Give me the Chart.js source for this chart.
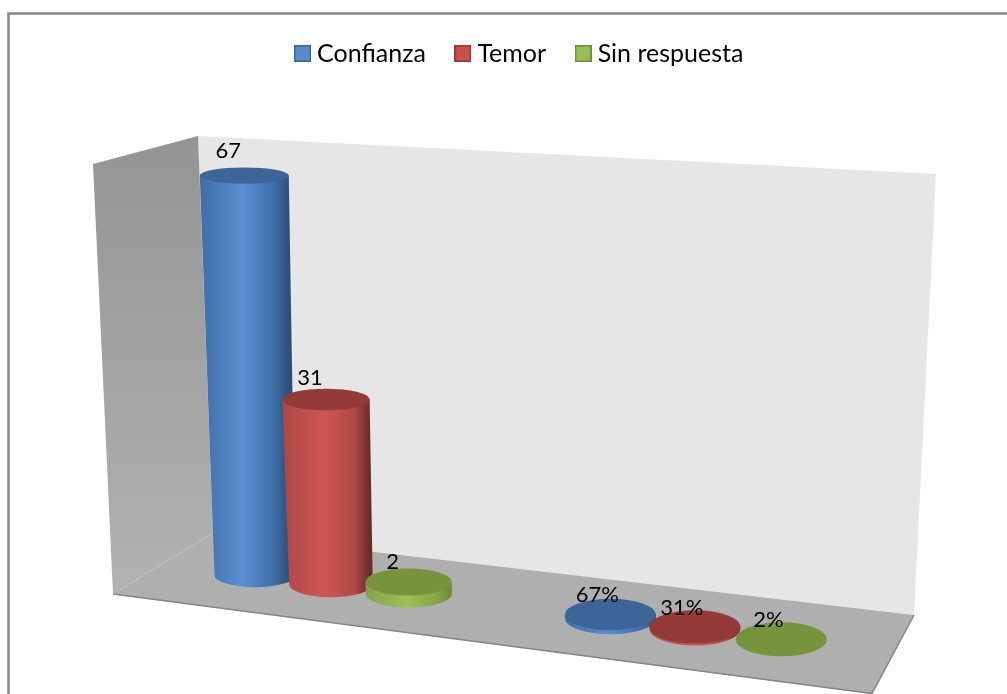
<!DOCTYPE html>
<html>
<head>
<meta charset="utf-8">
<style>html,body{margin:0;padding:0;background:#fff}canvas{display:block}</style>
<script src="https://cdn.jsdelivr.net/npm/chart.js@4"></script>
</head>
<body>
<div style="position:relative;width:1007px;height:694px"><canvas id="c" width="1007" height="694"></canvas></div>
<script>
const categories = ['Cantidad', 'Porcentaje'];
const seriesNames = ['Confianza', 'Temor', 'Sin respuesta'];
const confianza = [67, 0.67];
const temor = [31, 0.31];
const sinRespuesta = [2, 0.02];

const bodyColors = [
  ['#3f6ea7', '#5b8ed3', '#2f4f79', '#3d6597'],
  ['#ab4846', '#d05654', '#6a2c2b', '#943b39'],
  ['#84a348', '#9dc056', '#6c8636', '#77933c']
];
const swatchColors = [['#5a8bc9', '#39659b'], ['#c9504d', '#943634'], ['#9bbb59', '#6f8b3a']];
const FONT = 'Lato, "Open Sans", sans-serif';

function swatch(i) {
  const s = document.createElement('canvas');
  s.width = 17; s.height = 17;
  const g = s.getContext('2d');
  g.fillStyle = swatchColors[i][1];
  g.fillRect(0, 0, 17, 17);
  g.fillStyle = swatchColors[i][0];
  g.fillRect(1.5, 1.5, 14, 14);
  return s;
}

function poly(ctx, pts, fill, stroke) {
  ctx.beginPath();
  pts.forEach((p, i) => i ? ctx.lineTo(p[0], p[1]) : ctx.moveTo(p[0], p[1]));
  ctx.closePath();
  ctx.fillStyle = fill;
  ctx.fill();
  if (stroke) { ctx.strokeStyle = stroke; ctx.lineWidth = 1.5; ctx.stroke(); }
}

// 3D projection of the floor: slot x -> screen x, and floor depth along x
const centre = 340.5;
const projX = x => 331 + 0.95 * (x - centre) + 0.000145 * (x - centre) * (x - centre);
const floorY = bx => 575 + 0.122 * (bx - 254);

function drawCylinder(ctx, el, colors) {
  const h = el.base - el.y;
  const bx = projX(el.x);
  const by = floorY(bx);
  const brx = Math.min(45.5, 40.5 + 0.0165 * (bx - 254));
  const bry = Math.min(17, 12 + 0.0105 * (bx - 254));
  const tx = bx - h * 0.027;
  const ty = by - h;
  const trx = brx + h * 0.01;
  const tryy = bry * (1 - h * 0.00083);

  const g = ctx.createLinearGradient(tx - trx, 0, tx + trx, 0);
  g.addColorStop(0, colors[0]);
  g.addColorStop(0.48, colors[1]);
  g.addColorStop(0.84, colors[0]);
  g.addColorStop(1, colors[2]);
  ctx.beginPath();
  ctx.moveTo(tx - trx, ty);
  ctx.lineTo(bx - brx, by);
  ctx.ellipse(bx, by, brx, bry, 0, Math.PI, 0, true);
  ctx.lineTo(tx + trx, ty);
  ctx.closePath();
  ctx.fillStyle = g;
  ctx.fill();

  ctx.beginPath();
  ctx.ellipse(tx, ty, trx, tryy, 0, 0, Math.PI * 2);
  ctx.fillStyle = colors[3];
  ctx.fill();
  return { tx, ty, h };
}

const scene = {
  id: 'scene',
  beforeDraw(chart) {
    const ctx = chart.ctx;
    ctx.save();
    ctx.strokeStyle = '#868686';
    ctx.lineWidth = 2.5;
    ctx.beginPath();
    ctx.moveTo(8.5, 700);
    ctx.lineTo(8.5, 13.5);
    ctx.lineTo(1010, 13.5);
    ctx.stroke();
    const wg = ctx.createLinearGradient(0, 136, 0, 595);
    wg.addColorStop(0, '#949494');
    wg.addColorStop(1, '#b2b2b2');
    poly(ctx, [[198, 136], [936, 174], [914, 615], [213, 533]], '#e6e6e6');
    poly(ctx, [[93, 164], [198, 136], [213, 533], [113, 594]], wg);
    poly(ctx, [[113, 594], [213, 533], [914, 615], [872, 694], [113, 594]], '#afafaf');
    ctx.strokeStyle = '#858585';
    ctx.lineWidth = 1.5;
    ctx.beginPath();
    ctx.moveTo(113, 594); ctx.lineTo(872, 693.5); ctx.lineTo(914, 615);
    ctx.stroke();
    ctx.restore();
  },
  beforeDatasetsDraw(chart) {
    const ctx = chart.ctx;
    const labels = [];
    ctx.save();
    categories.forEach((_, i) => {
      chart.data.datasets.forEach((ds, d) => {
        const el = chart.getDatasetMeta(d).data[i];
        const p = drawCylinder(ctx, el, bodyColors[d]);
        const v = ds.data[i];
        labels.push([i === 1 ? Math.round(v * 100) + '%' : String(v), p.tx - (i === 0 ? 16 : 13), p.ty - 19.5 - p.h * 0.0115]);
      });
    });
    ctx.fillStyle = '#000';
    ctx.font = '22px ' + FONT;
    ctx.textAlign = 'center';
    ctx.textBaseline = 'middle';
    labels.forEach(l => ctx.fillText(l[0], l[1], l[2]));
    ctx.restore();
  },
  beforeDatasetDraw() { return false; }
};

new Chart(document.getElementById('c'), {
  type: 'bar',
  plugins: [scene],
  data: {
    labels: categories,
    datasets: [
      { label: seriesNames[0], data: confianza, backgroundColor: swatchColors[0][0] },
      { label: seriesNames[1], data: temor, backgroundColor: swatchColors[1][0] },
      { label: seriesNames[2], data: sinRespuesta, backgroundColor: swatchColors[2][0] }
    ]
  },
  options: {
    responsive: false,
    animation: false,
    categoryPercentage: 0.669,
    barPercentage: 1,
    layout: { padding: { left: 159, right: 122, top: 6, bottom: 21.5 } },
    scales: {
      x: { display: false },
      y: { display: false, min: 0, max: 100 }
    },
    plugins: {
      tooltip: { enabled: false },
      legend: {
        position: 'top',
        labels: {
          font: { family: FONT, size: 25 },
          color: '#000',
          usePointStyle: true,
          boxWidth: 4,
          boxHeight: 16,
          pointStyleWidth: 4,
          padding: 35,
          generateLabels: chart => chart.data.datasets.map((ds, i) => ({
            text: ds.label, datasetIndex: i, pointStyle: swatch(i), fontColor: '#000', hidden: false
          }))
        }
      }
    }
  }
});
</script>
</body>
</html>
